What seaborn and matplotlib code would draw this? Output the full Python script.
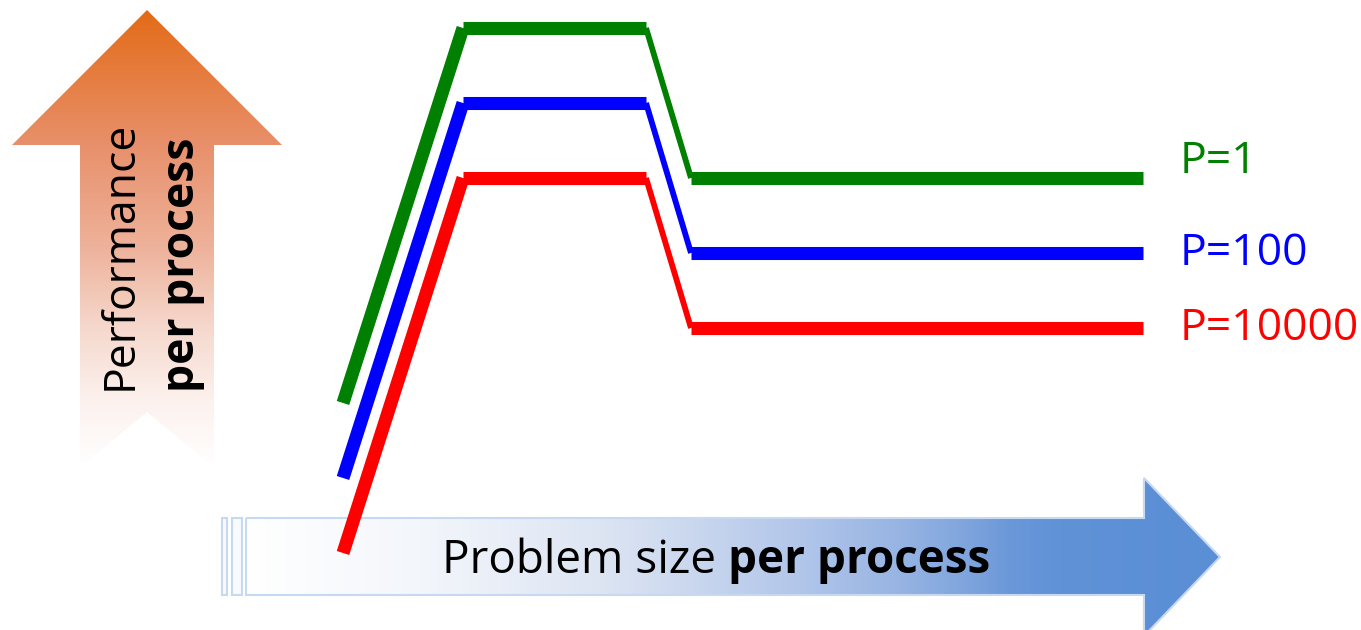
import numpy as np
import pandas as pd
import seaborn as sns
import matplotlib.pyplot as plt
from matplotlib.patches import Polygon, Rectangle
from matplotlib.colors import to_rgb

sns.set_style("white")
plt.rcParams['font.family'] = ['Open Sans', 'DejaVu Sans']

# schematic data: problem size per process vs performance per process
problem_size = [0.0, 1.2, 3.03, 3.48, 8.0]
perf_p1 = [2, 7, 7, 5, 5]
perf_p100 = [1, 6, 6, 4, 4]
perf_p10000 = [0, 5, 5, 3, 3]
series_labels = ["P=1", "P=100", "P=10000"]
series_colors = ["#008000", "#0000FF", "#FF0000"]
label_y = [5.07, 3.84, 2.84]
segment_widths = [9.4, 9.4, 4.2, 9.4]  # rise, peak, drop, plateau

df = pd.DataFrame({
    "size": problem_size * 3,
    "perf": perf_p1 + perf_p100 + perf_p10000,
    "P": np.repeat(series_labels, len(problem_size)),
    "seg": list(range(len(problem_size))) * 3,
})

fig = plt.figure(figsize=(13.61, 6.30), dpi=100)

# decoration layer in pixel units
deco = fig.add_axes([0, 0, 1, 1])
deco.axis("off")


def grad(a0, a1, stops, n=400):
    t = np.linspace(a0, a1, n)
    pos = [s[0] for s in stops]
    cols = np.array([to_rgb(s[1]) for s in stops])
    return np.stack([np.interp(t, pos, cols[:, k]) for k in range(3)], axis=-1)


# orange up arrow
up = Polygon([(147, 10), (282, 145), (214, 145), (214, 467), (147, 412),
              (80, 467), (80, 145), (12, 145)], closed=True,
             facecolor="none", edgecolor="none")
deco.add_patch(up)
im = deco.imshow(grad(10, 467, [(10, "#E36B17"), (145, "#E8906B"), (250, "#EEB39C"),
                                (330, "#F6D9CE"), (400, "#FCF1ED"), (467, "#FFFFFF")])[:, None, :],
                 extent=[12, 282, 467, 10], origin="upper", aspect="auto", zorder=1)
im.set_clip_path(up)

# blue right arrow
right = Polygon([(246, 518), (1144, 518), (1144, 478), (1220, 557), (1144, 636),
                 (1144, 595), (246, 595)], closed=True,
                facecolor="none", edgecolor="#C6D9F0", linewidth=1.5, zorder=2)
deco.add_patch(right)
im2 = deco.imshow(grad(246, 1220, [(246, "#FFFFFF"), (420, "#F3F6FB"), (600, "#DDE5F3"),
                                   (700, "#C8D6EE"), (800, "#B2C6EA"), (900, "#97B4E3"),
                                   (970, "#7EA4DD"), (1010, "#6B98D9"), (1060, "#5F92D7"),
                                   (1220, "#5A8ED5")])[None, :, :],
                  extent=[246, 1220, 636, 478], origin="upper", aspect="auto", zorder=1)
im2.set_clip_path(right)
for x0, w in [(222, 5), (232, 10)]:
    deco.add_patch(Rectangle((x0, 518), w, 77, facecolor="#F8FAFD",
                             edgecolor="#C6D9F0", linewidth=1.5, zorder=2))

deco.set_xlim(0, 1361)
deco.set_ylim(630, 0)

deco.text(120, 390, "Performance", rotation=90, ha="center", va="bottom",
          fontsize=32, color="black", zorder=3)
deco.text(183, 392, "per process", rotation=90, ha="center", va="bottom",
          fontsize=32, fontweight="bold", color="black", zorder=3)
t1 = deco.text(442, 573, "Problem size ", ha="left", va="baseline", fontsize=33,
               color="black", zorder=3)
deco.annotate("per process", xy=(1, 0), xycoords=t1, ha="left", va="bottom",
              fontsize=33, fontweight="bold", color="black", zorder=3)

# data layer
ax = fig.add_axes([0, 0, 1, 1])
ax.patch.set_alpha(0)
for lab, col in zip(series_labels, series_colors):
    d = df[df["P"] == lab].reset_index(drop=True)
    for i, w in enumerate(segment_widths):
        sns.lineplot(data=d.iloc[i:i + 2], x="size", y="perf", ax=ax, color=col,
                     linewidth=w, solid_capstyle="butt", legend=False)
for lab, col, ly in zip(series_labels, series_colors, label_y):
    ax.text(problem_size[-1] + 0.37, ly, lab, color=col, fontsize=32,
            ha="left", va="baseline")

ax.set_xlim(-3.43, 10.18)
ax.set_ylim(-1.027, 7.373)
ax.axis("off")

fig.savefig("out.png", dpi=100)
